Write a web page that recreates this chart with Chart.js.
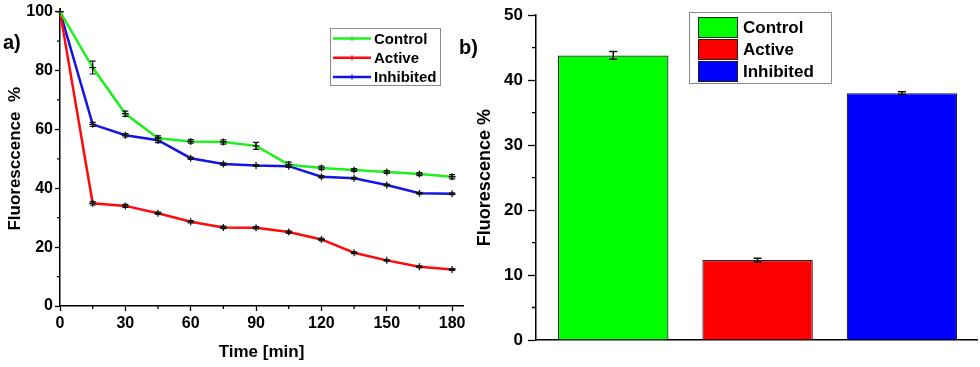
<!DOCTYPE html>
<html><head><meta charset="utf-8">
<script src="https://cdn.jsdelivr.net/npm/chart.js@4.4.1/dist/chart.umd.min.js"></script>
<style>
html,body{margin:0;padding:0;background:#fff;width:980px;height:367px;overflow:hidden;}
#wrapA{position:absolute;left:0;top:0;width:470px;height:367px;}
#wrapB{position:absolute;left:470px;top:0;width:510px;height:367px;}
.lab{position:absolute;font:bold 20px "Liberation Sans",Arial,sans-serif;color:#000;line-height:20px;}
</style></head><body>
<div id="wrapA"><canvas id="cA" width="470" height="367"></canvas></div>
<div id="wrapB"><canvas id="cB" width="510" height="367"></canvas></div>
<div class="lab" style="left:3px;top:32px">a)</div>
<div class="lab" style="left:459px;top:37px">b)</div>
<script>
// ---- data (left panel) ----
const timeMin       = [0, 15, 30, 45, 60, 75, 90, 105, 120, 135, 150, 165, 180];
const controlVals   = [100, 81.0, 65.3, 57.0, 55.9, 55.7, 54.4, 48.0, 46.9, 46.2, 45.5, 44.8, 43.9];
const controlErr    = [0, 2.2, 0.9, 0.8, 0.6, 0.7, 1.2, 0.9, 0.6, 0.5, 0.5, 0.5, 0.7];
const activeVals    = [100, 34.9, 34.0, 31.5, 28.6, 26.7, 26.6, 25.1, 22.6, 18.1, 15.5, 13.3, 12.4];
const activeErr     = [0, 0.6, 0.5, 0.4, 0.4, 0.4, 0.4, 0.4, 0.4, 0.3, 0.3, 0.3, 0.3];
const inhibitedVals = [100, 61.7, 58.0, 56.3, 50.2, 48.2, 47.7, 47.5, 43.9, 43.4, 41.1, 38.3, 38.1];
const inhibitedErr  = [0, 0.7, 0.6, 0.8, 0.4, 0.4, 0.3, 0.4, 0.4, 0.3, 0.3, 0.3, 0.3];
// ---- data (right panel) ----
const barCategories = ['Control', 'Active', 'Inhibited'];
const barVals       = [43.8, 12.3, 38.0];
const barErr        = [0.6, 0.3, 0.2];

const FF = '"Liberation Sans", Arial, sans-serif';
const GREEN = '#1fef1f', RED = '#ff0a0a', BLUE = '#1414e6';

const errorBarPlugin = {
  id: 'errbars',
  afterDatasetsDraw(chart, args, o) {
    const ctx = chart.ctx, ys = chart.scales.y;
    chart.data.datasets.forEach((ds, i) => {
      if (!ds.errors) return;
      const meta = chart.getDatasetMeta(i);
      meta.data.forEach((el, j) => {
        const e = ds.errors[j]; if (!e) return;
        const d = ds.data[j]; const v = (typeof d === 'object') ? d.y : d;
        const x = el.x, y1 = ys.getPixelForValue(v + e), y2 = ys.getPixelForValue(v - e);
        ctx.save(); ctx.strokeStyle = o.color; ctx.lineWidth = o.width;
        ctx.beginPath();
        ctx.moveTo(x, y1); ctx.lineTo(x, y2);
        ctx.moveTo(x - o.cap, y1); ctx.lineTo(x + o.cap, y1);
        ctx.moveTo(x - o.cap, y2); ctx.lineTo(x + o.cap, y2);
        ctx.stroke(); ctx.restore();
      });
    });
  }
};

const minorTicks = {
  id: 'minorTicks',
  afterDraw(chart, args, o) {
    const ctx = chart.ctx;
    (o.axes || []).forEach(a => {
      const sc = chart.scales[a.id];
      ctx.save(); ctx.strokeStyle = '#000'; ctx.lineWidth = a.width; ctx.beginPath();
      for (let v = sc.min + a.step / 2; v < sc.max; v += a.step) {
        const p = sc.getPixelForValue(v);
        if (sc.isHorizontal()) { ctx.moveTo(p, sc.top); ctx.lineTo(p, sc.top + a.len); }
        else { ctx.moveTo(sc.right, p); ctx.lineTo(sc.right - a.len, p); }
      }
      ctx.stroke(); ctx.restore();
    });
  }
};

const boxLegend = {
  id: 'boxLegend',
  afterDraw(chart, args, o) {
    const ctx = chart.ctx;
    ctx.save();
    ctx.fillStyle = '#fff'; ctx.fillRect(o.x, o.y, o.w, o.h);
    ctx.strokeStyle = '#8a8a8a'; ctx.lineWidth = 1;
    ctx.strokeRect(o.x + 0.5, o.y + 0.5, o.w, o.h);
    ctx.font = o.font; ctx.textBaseline = 'middle'; ctx.textAlign = 'left'; ctx.fillStyle = '#000';
    let items;
    if (o.mode === 'bars') {
      const ds = chart.data.datasets[0];
      items = chart.data.labels.map((l, i) => ({text: l, color: ds.backgroundColor[i]}));
    } else {
      items = chart.data.datasets.map(ds => ({text: ds.label, color: ds.borderColor}));
    }
    items.forEach((it, i) => {
      const cy = o.firstY + i * o.rowH;
      if (o.mode === 'bars') {
        ctx.fillStyle = it.color; ctx.fillRect(o.sx, cy - o.sh / 2, o.sw, o.sh);
        ctx.strokeStyle = '#222'; ctx.lineWidth = 1; ctx.strokeRect(o.sx + 0.5, cy - o.sh / 2 + 0.5, o.sw, o.sh);
      } else {
        ctx.strokeStyle = it.color; ctx.lineWidth = 2.5;
        ctx.beginPath(); ctx.moveTo(o.sx, cy); ctx.lineTo(o.sx + o.sw, cy); ctx.stroke();
        ctx.lineWidth = 1.2; ctx.beginPath();
        const mx = o.sx + o.sw / 2;
        ctx.moveTo(mx, cy - 2.5); ctx.lineTo(mx, cy + 2.5); ctx.stroke();
      }
      ctx.fillStyle = '#000';
      ctx.fillText(it.text, o.tx, cy + 1);
    });
    ctx.restore();
  }
};

function lineDs(label, vals, errs, color) {
  return {
    label, errors: errs, borderColor: color, backgroundColor: color,
    data: timeMin.map((t, i) => ({x: t, y: vals[i]})),
    borderWidth: 2.5, tension: 0, clip: false,
    pointStyle: 'cross', pointRadius: 3.5, pointBorderColor: '#1a1a1a', pointBorderWidth: 1.3
  };
}

new Chart(document.getElementById('cA'), {
  type: 'line',
  data: { datasets: [
    lineDs('Control', controlVals, controlErr, GREEN),
    lineDs('Active', activeVals, activeErr, RED),
    lineDs('Inhibited', inhibitedVals, inhibitedErr, BLUE)
  ]},
  options: {
    responsive: false, animation: false,
    layout: { padding: { top: 10, right: 7, left: 0, bottom: 0 } },
    plugins: {
      legend: { display: false }, tooltip: { enabled: false },
      errbars: { color: '#111', width: 1.2, cap: 3 },
      minorTicks: { axes: [ { id: 'x', step: 30, len: 3, width: 1.3 }, { id: 'y', step: 20, len: 3, width: 1.3 } ] },
      boxLegend: { mode: 'lines', x: 330, y: 28, w: 110, h: 57, sx: 333, sw: 38, tx: 374, firstY: 38.5, rowH: 19.3,
                   font: 'bold 15px ' + FF }
    },
    scales: {
      x: {
        type: 'linear', min: 0, max: 185,
        ticks: { stepSize: 30, includeBounds: false, color: '#000', padding: 3, maxRotation: 0,
                 font: { family: FF, size: 16, weight: 'bold' } },
        grid: { display: true, drawOnChartArea: false, drawTicks: true, tickLength: 5, color: '#000', tickWidth: 1.3 },
        border: { display: true, color: '#000', width: 1.5 },
        title: { display: true, text: 'Time [min]', color: '#000', padding: { top: 0, bottom: 4 },
                 font: { family: FF, size: 17, weight: 'bold' } },
        afterFit(s) { s.height = 61; }
      },
      y: {
        min: 0, max: 100,
        ticks: { stepSize: 20, color: '#000', padding: 2, font: { family: FF, size: 16, weight: 'bold' } },
        grid: { display: true, drawOnChartArea: false, drawTicks: true, tickLength: 5, color: '#000', tickWidth: 1.3 },
        border: { display: true, color: '#000', width: 1.5 },
        title: { display: true, text: 'Fluoresccence  %', color: '#000', padding: { top: 5, bottom: 0 },
                 font: { family: FF, size: 17, weight: 'bold' } },
        afterFit(s) { s.width = 60; }
      }
    }
  },
  plugins: [errorBarPlugin, minorTicks, boxLegend]
});

new Chart(document.getElementById('cB'), {
  type: 'bar',
  data: { labels: barCategories, datasets: [{
    data: barVals.map((v, i) => ({x: i, y: v})), errors: barErr,
    backgroundColor: ['#00ff00', '#ff0000', '#0000ff'],
    borderColor: '#222', borderWidth: 1.2,
    barPercentage: 0.765, categoryPercentage: 1
  }]},
  options: {
    responsive: false, animation: false,
    layout: { padding: { top: 15, right: 3, left: 0, bottom: 0 } },
    plugins: {
      legend: { display: false }, tooltip: { enabled: false },
      errbars: { color: '#111', width: 1.5, cap: 4 },
      minorTicks: { axes: [ { id: 'y', step: 10, len: 4, width: 1.3 } ] },
      boxLegend: { mode: 'bars', x: 219, y: 12, w: 142, h: 71, sx: 228, sw: 39, sh: 20, tx: 273, firstY: 27, rowH: 22,
                   font: 'bold 17px ' + FF }
    },
    scales: {
      x: {
        type: 'linear', min: -0.535, max: 2.52, offset: false,
        ticks: { display: false, stepSize: 1, includeBounds: false },
        grid: { display: false, offset: false },
        border: { display: true, color: '#000', width: 1.5 },
        afterFit(s) { s.height = 27; }
      },
      y: {
        min: 0, max: 50,
        ticks: { stepSize: 10, color: '#000', padding: 5, font: { family: FF, size: 17, weight: 'bold' } },
        grid: { display: true, drawOnChartArea: false, drawTicks: true, tickLength: 8, color: '#000', tickWidth: 1.3 },
        border: { display: true, color: '#000', width: 1.5 },
        title: { display: true, text: 'Fluorescence %', color: '#000', padding: { top: 4, bottom: 0 },
                 font: { family: FF, size: 18, weight: 'bold' } },
        afterFit(s) { s.width = 66; }
      }
    }
  },
  plugins: [errorBarPlugin, minorTicks, boxLegend]
});
</script>
</body></html>
